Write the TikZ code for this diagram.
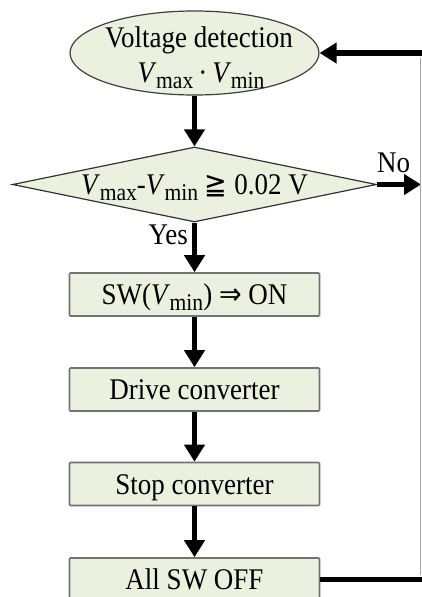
\documentclass[tikz,border=0pt]{standalone}
\usepackage{fontspec}
\setmainfont{Liberation Serif}[FakeStretch=0.9]
\newfontfamily\dejavu{DejaVu Sans}[FakeStretch=0.9]
\usetikzlibrary{arrows.meta,shapes.geometric}
\definecolor{boxfill}{HTML}{EBF1DE}
% italic V with an upright, lowered index
\newcommand{\Vsub}[1]{\textit{V}\kern-0.5pt\raisebox{-0.2em}{\fontsize{24}{24}\selectfont #1}}

\begin{document}
\begin{tikzpicture}[x=1pt,y=-1pt,
  txt/.style={font=\fontsize{30}{34}\selectfont, inner sep=0pt},
  shapebase/.style={fill=boxfill, inner sep=0pt, text height=20pt, text depth=0pt,
    font=\fontsize{30}{34}\selectfont},
  stepbox/.style={shapebase, draw=black!55, line width=1.6pt, rounded corners=1pt,
    minimum width=250pt, minimum height=43pt},
  flow/.style={line width=5.5pt, -{Triangle[width=20pt,length=17pt]}},
]
\useasboundingbox[fill=white] (0,0) rectangle (421,597);

% start: measurement
\node[ellipse, draw=black!75, line width=1.2pt, fill=boxfill,
      minimum width=249pt, minimum height=84pt, inner sep=0pt] (detect) at (194.5,53) {};
\node[txt, anchor=base] (detA) at (199,47) {Voltage detection};
\node[txt, anchor=base] (detB) at (201,82) {\Vsub{max}\,·\,\Vsub{min}};

% decision
\node[diamond, aspect=4.85, shapebase, draw=black!80, line width=1.2pt,
      minimum width=364pt, minimum height=75pt] (cond) at (194.5,184.5)
      {\Vsub{max}-\Vsub{min} {\dejavu ≧} 0.02 V};

% process steps
\node[stepbox] (swon)  at (194.5,294.5) {SW(\Vsub{min}) {\dejavu ⇒} ON};
\node[stepbox] (drive) at (194.5,389.5) {Drive converter};
\node[stepbox] (stop)  at (194.5,484)   {Stop converter};
\node[stepbox] (off)   at (194.5,579.5) {All SW OFF};

% branch labels
\node[txt, anchor=base east] (yes) at (188,244) {Yes};
\node[txt, anchor=base west] (no)  at (377,172) {No};

% free end of the "No" branch and the return column at the right edge
\coordinate (noend) at (421,184.5);
\coordinate (fbx) at (425,0);

% connectors
\draw[flow] (detect.south) -- (cond.north);
\draw[flow] (cond.south) -- (swon.north);
\draw[flow] (swon.south) -- (drive.north);
\draw[flow] (drive.south) -- (stop.north);
\draw[flow] (stop.south) -- (off.north);
\draw[flow] (cond.east) -- (noend);
\draw[flow] (off.east) -- (off.east -| fbx) |- (detect.east);
% thin rule along the edge of the return column
\draw[black!35, line width=0.8pt] (420.6,58) -- (420.6,575);
\end{tikzpicture}
\end{document}
